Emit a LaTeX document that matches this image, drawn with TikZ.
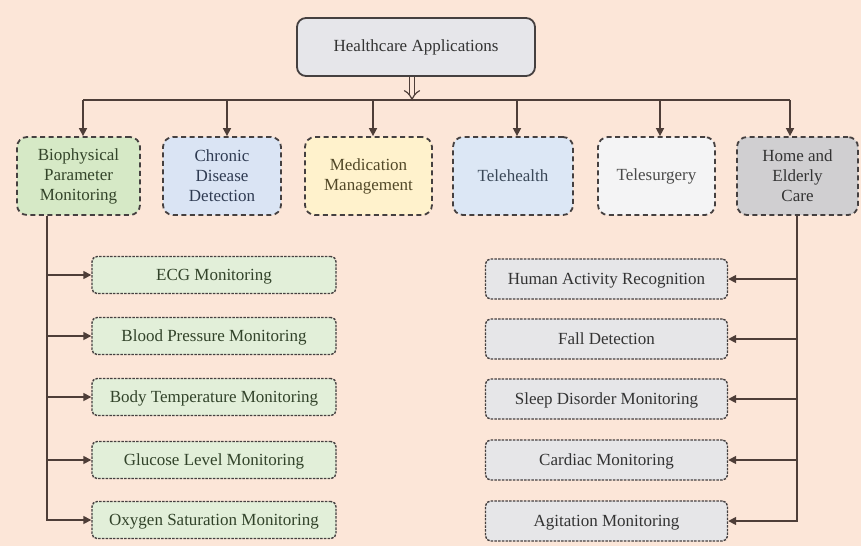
\documentclass[tikz,border=0pt]{standalone}
\usepackage{fontspec}
\setmainfont{Liberation Serif}
\usetikzlibrary{arrows.meta}
\definecolor{bg}{HTML}{FCE6D8}
\definecolor{edge}{HTML}{454040}
\definecolor{wire}{HTML}{4E3E38}
\definecolor{topf}{HTML}{E6E6EA}
\definecolor{biof}{HTML}{D6E9C6}
\definecolor{biot}{HTML}{34452A}
\definecolor{chrf}{HTML}{DAE4F4}
\definecolor{chrt}{HTML}{2F3B52}
\definecolor{medf}{HTML}{FFF2CC}
\definecolor{medt}{HTML}{524828}
\definecolor{telf}{HTML}{DCE7F5}
\definecolor{telt}{HTML}{3A4858}
\definecolor{surf}{HTML}{F4F4F5}
\definecolor{surt}{HTML}{4A4A4A}
\definecolor{homf}{HTML}{D0CFD1}
\definecolor{homt}{HTML}{333333}
\definecolor{lsubf}{HTML}{E2EFD9}
\definecolor{lsubt}{HTML}{32432A}
\definecolor{rsubf}{HTML}{E6E6E8}
\definecolor{rsubt}{HTML}{333333}
\tikzset{
  txt/.style={font=\fontsize{17}{20}\selectfont, align=center, inner sep=0pt},
  rootbox/.style={txt, draw=edge, line width=1.8pt, rounded corners=9pt, fill=topf, text=homt, minimum width=238pt, minimum height=58pt},
  catbox/.style={txt, draw=edge, line width=1.8pt, dash pattern=on 5pt off 3.5pt, rounded corners=10pt, minimum height=78pt},
  subbox/.style={txt, draw=edge, line width=1.4pt, dash pattern=on 2.5pt off 1.2pt, rounded corners=5pt},
  lsub/.style={subbox, fill=lsubf, text=lsubt, minimum width=244pt, minimum height=37pt, text depth=1pt},
  rsub/.style={subbox, fill=rsubf, text=rsubt, minimum width=242pt, minimum height=40pt, text depth=1pt},
  wireline/.style={draw=wire, line width=1.6pt},
  conn/.style={wireline, -{Triangle[length=8pt,width=8pt]}},
}
\begin{document}
\begin{tikzpicture}[x=1pt,y=-1pt]
\fill[bg] (0,0) rectangle (861,546);
\useasboundingbox (0,0) rectangle (861,546);

\node[rootbox] (root) at (416,47) {Healthcare Applications};

\node[catbox, fill=biof, text=biot, minimum width=123pt] (bio) at (78.5,176) {Biophysical\\Parameter\\Monitoring};
\node[catbox, fill=chrf, text=chrt, minimum width=118pt] (chr) at (222,176) {Chronic\\Disease\\Detection};
\node[catbox, fill=medf, text=medt, minimum width=127pt] (med) at (368.5,176) {Medication\\Management};
\node[catbox, fill=telf, text=telt, minimum width=120pt] (tel) at (513,176) {Telehealth};
\node[catbox, fill=surf, text=surt, minimum width=117pt] (sur) at (656.5,176) {Telesurgery};
\node[catbox, fill=homf, text=homt, minimum width=121pt] (hom) at (797.5,176) {Home and\\Elderly\\Care};

\node[lsub] (ecg) at (214,275) {ECG Monitoring};
\node[lsub] (bp)  at (214,336) {Blood Pressure Monitoring};
\node[lsub] (bt)  at (214,397) {Body Temperature Monitoring};
\node[lsub] (gl)  at (214,460) {Glucose Level Monitoring};
\node[lsub] (ox)  at (214,520) {Oxygen Saturation Monitoring};

\node[rsub] (har) at (606.5,279) {Human Activity Recognition};
\node[rsub] (fall) at (606.5,339) {Fall Detection};
\node[rsub] (sleep) at (606.5,399) {Sleep Disorder Monitoring};
\node[rsub] (card) at (606.5,460) {Cardiac Monitoring};
\node[rsub] (agit) at (606.5,521) {Agitation Monitoring};

% bus
\coordinate (hub) at (412,100);
\coordinate (b1) at (83,100);
\coordinate (b2) at (227,100);
\coordinate (b3) at (373,100);
\coordinate (b4) at (517,100);
\coordinate (b5) at (660,100);
\coordinate (b6) at (790,100);
\draw[draw=wire, line width=1.2pt, double=bg, double distance=4.5pt, -{Implies[length=6pt]}] (hub |- root.south) -- ([yshift=-1pt]hub);
\draw[wireline] (b1) -- (b6);
\draw[conn] (b1) -- (b1 |- bio.north);
\draw[conn] (b2) -- (b2 |- chr.north);
\draw[conn] (b3) -- (b3 |- med.north);
\draw[conn] (b4) -- (b4 |- tel.north);
\draw[conn] (b5) -- (b5 |- sur.north);
\draw[conn] (b6) -- (b6 |- hom.north);

% left branch
\coordinate (lx) at (47,0);
\draw[conn] (lx |- bio.south) |- (ecg.west);
\draw[conn] (lx |- bio.south) |- (bp.west);
\draw[conn] (lx |- bio.south) |- (bt.west);
\draw[conn] (lx |- bio.south) |- (gl.west);
\draw[conn] (lx |- bio.south) |- (ox.west);

% right branch
\coordinate (rx) at (797,0);
\draw[conn] (rx |- hom.south) |- (har.east);
\draw[conn] (rx |- hom.south) |- (fall.east);
\draw[conn] (rx |- hom.south) |- (sleep.east);
\draw[conn] (rx |- hom.south) |- (card.east);
\draw[conn] (rx |- hom.south) |- (agit.east);
\end{tikzpicture}
\end{document}
